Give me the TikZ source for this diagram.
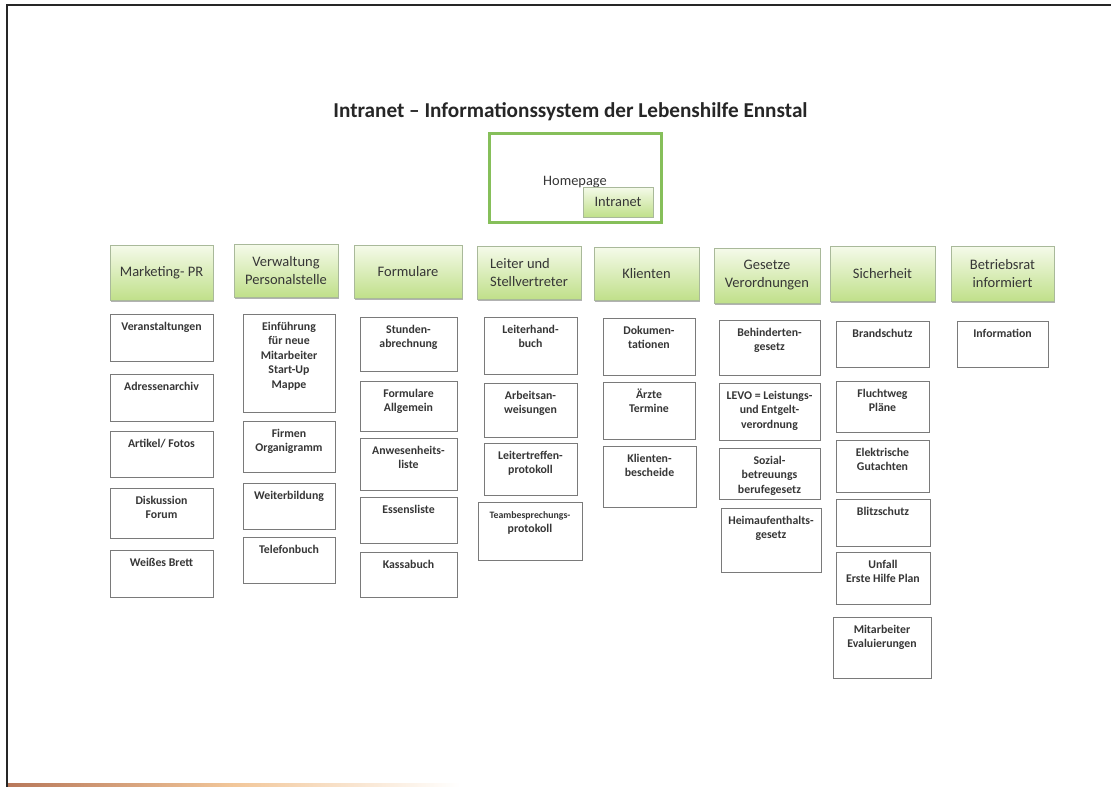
\documentclass[tikz,border=0pt]{standalone}
\usepackage{fontspec}
\setmainfont{Carlito}
\usetikzlibrary{shadows}
\definecolor{hdtop}{HTML}{F5FAEA}
\definecolor{hdbot}{HTML}{C0E08A}
\definecolor{hdline}{HTML}{A9B99A}
\definecolor{hpgreen}{HTML}{86BF5A}
\definecolor{txt}{HTML}{363636}
\definecolor{boxline}{HTML}{7A7A7A}
\definecolor{scanbrown}{HTML}{B8785A}
\definecolor{scanorange}{HTML}{F2C79A}
\tikzset{
  hdbox/.style={draw=hdline, line width=0.6pt, top color=hdtop, bottom color=hdbot,
    inner sep=2pt, font=\fontsize{14.5}{18}\selectfont, text=txt,
    drop shadow={shadow xshift=0.8pt, shadow yshift=-1.6pt, fill=black, opacity=0.3}},
  subbox/.style={draw=boxline, line width=0.9pt, fill=white, inner sep=0pt,
    font=\fontsize{11.8}{14.5}\selectfont\bfseries, text=txt},
  homebox/.style={draw=hpgreen, line width=2.2pt, fill=white},
  intrabox/.style={draw=hdline, line width=0.6pt, top color=hdtop, bottom color=hdbot,
    font=\fontsize{14.4}{16}\selectfont, text=txt,
    drop shadow={shadow xshift=0.8pt, shadow yshift=-1.2pt, fill=black, opacity=0.3}},
  plain/.style={font=\fontsize{14.4}{16}\selectfont, text=txt, inner sep=0pt},
  titletext/.style={font=\fontsize{21.2}{25}\selectfont\bfseries, text=black!85, inner sep=0pt},
  scanline/.style={draw=black!85, line width=1.2pt}
}
% name, x1, y1, x2, y2, align, text
\newcommand{\hdcell}[7]{%
  \node[hdbox, align=#6, minimum width={(#4-#2)*1pt}, minimum height={(#5-#3)*1pt}]
    (#1) at ({(#2+#4)/2},{(#3+#5)/2}) {#7};}
% name, x1, y1, x2, y2, text
\newcommand{\subcell}[6]{%
  \node[subbox, minimum width={(#4-#2)*1pt}, minimum height={(#5-#3)*1pt}]
    (#1) at ({(#2+#4)/2},{(#3+#5)/2})
    {\parbox[c][\dimexpr#5pt-#3pt\relax][t]{\dimexpr#4pt-#2pt-2pt\relax}{\centering\vspace*{6pt}\strut#6}};}

\begin{document}
\begin{tikzpicture}[x=1pt,y=-1pt]
\useasboundingbox (0,0) rectangle (1111,787);
\fill[white] (0,0) rectangle (1111,787);
% scan border
\draw[scanline] (7,787) -- (7,5) -- (1111,5);
\shade[left color=scanbrown, right color=white, middle color=scanorange] (8,783) rectangle (460,787);

% title
\node[titletext, anchor=base] (title) at (570.5,117) {Intranet – Informationssystem der Lebenshilfe Ennstal};

% homepage
\node[homebox, minimum width=172pt, minimum height=89pt] (home) at (575.5,178) {};
\node[plain, anchor=base] (hometext) at (575,185) {Homepage};
\node[intrabox, minimum width=70pt, minimum height=30pt, inner sep=0pt] (intranet) at (618,202) {Intranet};

% headers
\hdcell{mk}{110}{245}{213}{300}{center}{Marketing- PR}
\hdcell{vw}{234}{244}{338}{297}{center}{Verwaltung\\Personalstelle}
\hdcell{fo}{354}{245}{462}{298}{center}{Formulare}
\hdcell{le}{477}{246}{581}{299}{left}{Leiter und\\Stellvertreter}
\hdcell{kl}{594}{247}{699}{300}{center}{Klienten}
\hdcell{ge}{714}{248}{820}{303}{center}{Gesetze\\Verordnungen}
\hdcell{si}{830}{246}{935}{301}{center}{Sicherheit}
\hdcell{br}{951}{246}{1054}{301}{center}{Betriebsrat\\informiert}

% Marketing- PR
\subcell{mk1}{110}{314}{213}{361}{Veranstaltungen}
\subcell{mk2}{110}{374}{213}{421}{Adressenarchiv}
\subcell{mk3}{110}{431}{213}{477}{Artikel/ Fotos}
\subcell{mk4}{110}{488}{213}{538}{Diskussion\\Forum}
\subcell{mk5}{110}{550}{213}{597}{Weißes Brett}

% Verwaltung
\subcell{vw1}{243}{314}{335}{412}{Einführung\\für neue\\Mitarbeiter\\Start-Up\\Mappe}
\subcell{vw2}{243}{421}{335}{472}{Firmen\\Organigramm}
\subcell{vw3}{243}{483}{335}{529}{Weiterbildung}
\subcell{vw4}{243}{537}{335}{583}{Telefonbuch}

% Formulare
\subcell{fo1}{360}{317}{457}{371}{Stunden-\\abrechnung}
\subcell{fo2}{360}{381}{457}{431}{Formulare\\Allgemein}
\subcell{fo3}{360}{438}{457}{490}{Anwesenheits-\\liste}
\subcell{fo4}{360}{497}{457}{543}{Essensliste}
\subcell{fo5}{360}{552}{457}{597}{Kassabuch}

% Leiter
\subcell{le1}{484}{317}{577}{374}{Leiterhand-\\buch}
\subcell{le2}{484}{383}{577}{437}{Arbeitsan-\\weisungen}
\subcell{le3}{484}{443}{577}{495}{Leitertreffen-\\protokoll}
\subcell{le4}{478}{502}{582}{560}{{\fontsize{9.8}{14}\selectfont Teambesprechungs-}\\protokoll}

% Klienten
\subcell{kl1}{603}{318}{695}{375}{Dokumen-\\tationen}
\subcell{kl2}{603}{382}{695}{439}{Ärzte\\Termine}
\subcell{kl3}{603}{446}{696}{507}{Klienten-\\bescheide}

% Gesetze
\subcell{ge1}{719}{320}{820}{375}{Behinderten-\\gesetz}
\subcell{ge2}{719}{383}{820}{440}{LEVO = Leistungs-\\und Entgelt-\\verordnung}
\subcell{ge3}{719}{448}{820}{499}{Sozial-\\betreuungs\\berufegesetz}
\subcell{ge4}{721}{508}{821}{572}{Heimaufenthalts-\\gesetz}

% Sicherheit
\subcell{si1}{836}{321}{929}{367}{Brandschutz}
\subcell{si2}{836}{381}{929}{432}{Fluchtweg\\Pläne}
\subcell{si3}{836}{440}{929}{492}{Elektrische\\Gutachten}
\subcell{si4}{836}{499}{930}{546}{Blitzschutz}
\subcell{si5}{836}{552}{930}{604}{Unfall\\Erste Hilfe Plan}
\subcell{si6}{833}{617}{931}{678}{Mitarbeiter\\Evaluierungen}

% Betriebsrat
\subcell{br1}{957}{321}{1048}{367}{Information}
\end{tikzpicture}
\end{document}
